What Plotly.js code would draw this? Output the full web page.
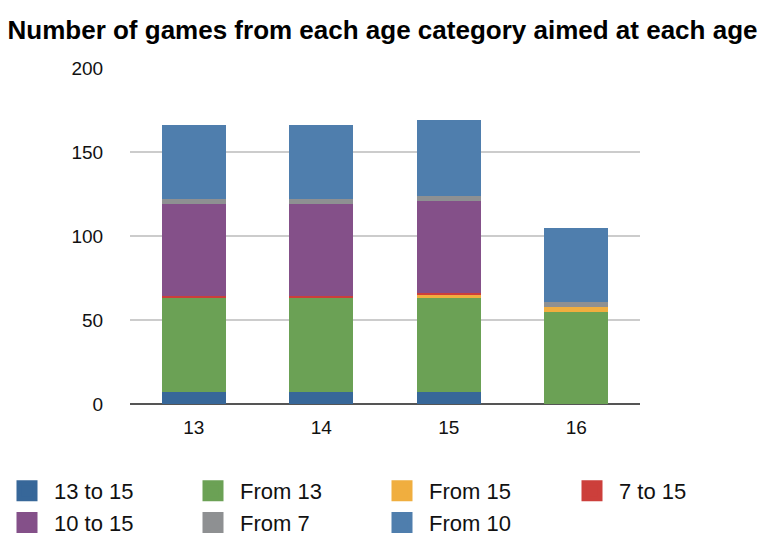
<!DOCTYPE html>
<html>
<head>
<meta charset="utf-8">
<script src="https://cdn.plot.ly/plotly-3.0.1.min.js"></script>
<style>html,body{margin:0;padding:0;background:#fff;}#chart{width:765px;height:536px;}</style>
</head>
<body>
<div id="chart"></div>
<script>
const ages = ['13', '14', '15', '16'];
const seriesNames = ['13 to 15', 'From 13', 'From 15', '7 to 15', '10 to 15', 'From 7', 'From 10'];
const s13to15 = [7, 7, 7, 0];
const from13 = [56, 56, 56, 55];
const from15 = [0, 0, 2, 3];
const s7to15 = [1, 1, 1, 0];
const s10to15 = [55, 55, 55, 0];
const from7 = [3, 3, 3, 3];
const from10 = [44, 44, 45, 44];
const yTicks = [0, 50, 100, 150, 200];

const seriesValues = [s13to15, from13, from15, s7to15, s10to15, from7, from10];
const colors = ['#376799', '#6ba155', '#f0ae3f', '#cc3f3b', '#845089', '#8e9092', '#4f7ead'];
// legend column for each series (4 columns, filled row by row)
const legendIds = ['legend', 'legend2', 'legend3', 'legend4', 'legend', 'legend2', 'legend3'];

const traces = [];
seriesValues.forEach((vals, i) => {
  traces.push({
    type: 'bar', x: ages, y: vals, name: seriesNames[i],
    marker: {color: colors[i], line: {width: 0}},
    showlegend: false, legendgroup: 'g' + i
  });
});
// legend proxies (larger swatches)
seriesValues.forEach((vals, i) => {
  traces.push({
    type: 'scatter', mode: 'markers', x: [null], y: [null], name: seriesNames[i],
    marker: {symbol: 'square', size: 16, color: colors[i], line: {color: colors[i], width: 5}},
    showlegend: true, legendgroup: 'g' + i, legend: legendIds[i], hoverinfo: 'skip'
  });
});

function legendAt(px) {
  return {orientation: 'v', xref: 'container', yref: 'container', x: px / 765, y: 0.123,
          xanchor: 'left', yanchor: 'top', itemwidth: 44, font: {size: 22, color: '#111'},
          traceorder: 'normal', bgcolor: 'rgba(0,0,0,0)', tracegroupgap: 0};
}

const layout = {
  width: 765, height: 536,
  paper_bgcolor: '#fff', plot_bgcolor: '#fff',
  font: {family: 'Liberation Sans, Arial, sans-serif', color: '#111'},
  barmode: 'stack', bargap: 0.5,
  margin: {l: 130, r: 125, t: 68, b: 132, autoexpand: false},
  title: {text: '<b>Number of games from each age category aimed at each age</b>',
          font: {size: 26, color: '#000'}, x: 0.5, xref: 'container', y: 0.945, yref: 'container', yanchor: 'middle'},
  xaxis: {type: 'category', showgrid: false, zeroline: false, showline: false,
          ticks: 'outside', ticklen: 6, tickcolor: 'rgba(0,0,0,0)', tickfont: {size: 19, color: '#111'}},
  yaxis: {range: [0, 200], tickvals: yTicks, showgrid: true, gridcolor: '#cccccc', gridwidth: 1.5,
          zeroline: true, zerolinecolor: '#555555', zerolinewidth: 2.5, showline: false,
          ticks: 'outside', ticklen: 22, tickcolor: 'rgba(0,0,0,0)', tickfont: {size: 19, color: '#111'}},
  legend: legendAt(0),
  legend2: legendAt(186),
  legend3: legendAt(375),
  legend4: legendAt(565),
  showlegend: true
};

Plotly.newPlot('chart', traces, layout, {displayModeBar: false, staticPlot: true});
</script>
</body>
</html>
